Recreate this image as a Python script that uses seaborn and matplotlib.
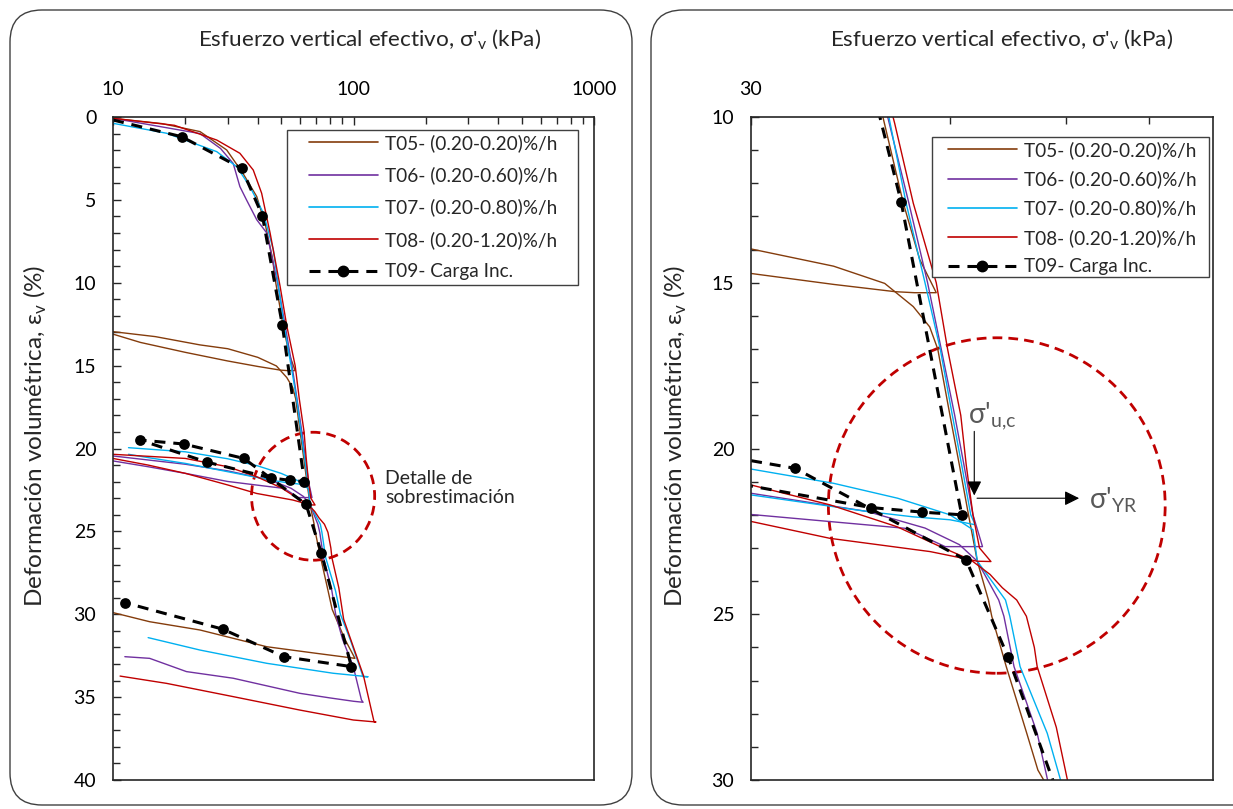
"""
Consolidation curves (strain vs effective vertical stress), full view and detail.
"""

import numpy as np
import pandas as pd
import matplotlib
matplotlib.use('Agg')
import matplotlib.pyplot as plt
import seaborn as sns
from matplotlib.patches import Ellipse, FancyBboxPatch, Rectangle
from matplotlib.lines import Line2D
from matplotlib.ticker import FixedLocator, NullFormatter, LogLocator, FuncFormatter, MultipleLocator

nan = np.nan

# ---- data (stress in kPa, strain in %) ; nan = new branch
t05_stress = [10, 16, 23, 29.7, 34.7, 39.6, 43, 46, 47.5, 51, 54, 57.2, 53, 49.6, 40, 30, 20, 13, 10, nan,
              10, 15, 23, 30, 40, 47.8, 52.8, 55.9, 57.5, 60, 62, 64, 66, 68.6, 69.4, 73, 78.4, 81.5,
              92, 101.4, 70.3, 43.6, 23, 14.2, 10]
t05_strain = [0.08, 0.4, 0.88, 1.99, 3.4, 4.8, 6.5, 8.5, 10, 12.6, 14.3, 15.3, 15.3, 15.27, 15.05, 14.72, 14.2, 13.6, 13.1, nan,
              12.95, 13.25, 13.75, 13.98, 14.5, 15.02, 15.72, 16.33, 17.0, 19.0, 20.5, 22, 23.4, 24.57, 25.06, 26.58, 28.59, 29.7,
              31.5, 32.66, 32.36, 31.96, 30.95, 30.45, 29.9]

t06_stress = [10, 23, 28, 31.6, 33.7, 35.9, 39.6, 43.6, 48.3, 52, 55.5, 58.2, 61, 63, 65, 67.2, 59, 51.5, 30, 20, 14, 10, nan,
              10, 20, 30, 45, 55, 62, 66, 71.1, 72.4, 75, 81.3, 84.3, 90, 99.8, 107.9, 109.6, 100, 80, 59.8, 31.6, 20.2, 14.2, 11.2]
t06_strain = [0.08, 1.0, 1.9, 2.8, 4.2, 5.0, 6.2, 7.0, 10.0, 12.6, 15, 17, 19, 20.5, 22, 22.96, 22.96, 22.41, 21.99, 21.5, 21.1, 20.75, nan,
              20.45, 20.95, 21.35, 21.9, 22.4, 22.9, 23.4, 24.57, 25.06, 26.58, 28.59, 30, 31.5, 33.16, 35.17, 35.31, 35.25, 35.05, 34.77, 33.86, 33.46, 32.66, 32.56]

t07_stress = [10, 16.7, 27, 32.7, 37.1, 42.2, 46.4, 48.5, 51.5, 55, 58, 60.5, 62.5, 64.5, 65.5, 60, 52.7, 45, 30, 20, 14, 11.6, nan,
              11.6, 20, 30, 40, 50, 60, 65, 66, 72.8, 73.9, 76.6, 84.2, 88.2, 97, 104, 109.6, 115, 82.3, 43.6, 23, 14]
t07_strain = [0.38, 0.98, 2.09, 3.0, 4.2, 5.8, 8.0, 10, 12.6, 15, 17, 19, 20.5, 22, 22.3, 22.15, 22.06, 21.9, 21.4, 20.9, 20.55, 20.35, nan,
              19.95, 20.2, 20.62, 21.05, 21.5, 22.0, 22.45, 23.4, 24.57, 25.06, 26.58, 28.59, 30, 31.55, 32.8, 33.77, 33.77, 33.56, 32.96, 32.16, 31.41]

t08_stress = [10, 18, 27, 33.7, 38.3, 41.5, 45, 49.5, 52.8, 57.2, 59.5, 62.3, 63.5, 65, 66.5, 69.2, 66, 56, 39.5, 30, 20, 14, 10, nan,
              10, 20, 30, 39.5, 49.9, 58, 64.5, 69, 72, 75.7, 78.3, 80.5, 81.3, 86.9, 91, 100, 110, 121.7, 124, 99.8, 59.8, 31.6, 16.7, 10.7]
t08_strain = [0.08, 0.5, 1.39, 2.19, 3.2, 4.6, 7.0, 10.2, 12.6, 15.0, 17.0, 19.0, 20.5, 22, 23.0, 23.41, 23.4, 23.11, 22.71, 22.2, 21.5, 21.0, 20.6, nan,
              20.35, 20.6, 21.1, 21.7, 22.36, 22.96, 23.36, 23.8, 24.2, 24.57, 25.06, 26.0, 26.58, 28.41, 30.3, 32.0, 33.7, 36.48, 36.5, 36.38, 35.78, 34.97, 34.17, 33.73]

t09_stress = [10, 19.3, 34.3, 41.8, 50.6, 62.5, 54.5, 45.5, 24.7, 12.95, 19.7, 35, 63.5, 73.5, 98, 51.3, 28.6, 11.2]
t09_strain = [0.18, 1.19, 3.1, 5.95, 12.55, 22.0, 21.92, 21.78, 20.83, 19.49, 19.73, 20.6, 23.37, 26.3, 33.16, 32.56, 30.9, 29.3]

test_names = ['T05- (0.20-0.20)%/h', 'T06- (0.20-0.60)%/h', 'T07- (0.20-0.80)%/h',
              'T08- (0.20-1.20)%/h', 'T09- Carga Inc.']
test_colors = ['#843C0C', '#7030A0', '#00B0F0', '#C00000', 'black']

x_title = "Esfuerzo vertical efectivo, σ'$_\\mathregular{v}$ (kPa)"
y_title = "Deformación volumétrica, ε$_\\mathregular{v}$ (%)"


def to_frame(stress, strain, name):
    s = np.array(stress, dtype=float)
    e = np.array(strain, dtype=float)
    df = pd.DataFrame({'stress': s, 'strain': e, 'seg': np.cumsum(np.isnan(s)), 'test': name})
    return df.dropna()


curves = pd.concat([to_frame(t05_stress, t05_strain, test_names[0]),
                    to_frame(t06_stress, t06_strain, test_names[1]),
                    to_frame(t07_stress, t07_strain, test_names[2]),
                    to_frame(t08_stress, t08_strain, test_names[3])])
t09 = to_frame(t09_stress, t09_strain, test_names[4])
t09_dots = t09.iloc[1:]

sns.set_style('white')
plt.rcParams['font.family'] = ['Lato', 'DejaVu Sans']
plt.rcParams['axes.edgecolor'] = '#262626'

FS_TICK = 14
FS_LEG = 13.7
W, H = 1233, 809
fig = plt.figure(figsize=(W / 100, H / 100), dpi=100)


def px_axes(x0, y0, x1, y1):
    return fig.add_axes([x0 / W, 1 - y1 / H, (x1 - x0) / W, (y1 - y0) / H])


def draw_curves(ax):
    sns.lineplot(data=curves, x='stress', y='strain', hue='test', units='seg',
                 estimator=None, sort=False, palette=dict(zip(test_names[:4], test_colors[:4])),
                 linewidth=1.0, legend=False, ax=ax)
    sns.lineplot(data=t09, x='stress', y='strain', units='seg', estimator=None, sort=False,
                 color='black', linewidth=2.2, linestyle=(0, (3.6, 2.6)), legend=False, ax=ax)
    sns.scatterplot(data=t09_dots, x='stress', y='strain', color='black', s=60,
                    edgecolor='black', linewidth=0, legend=False, ax=ax, zorder=5)
    ax.set_xlabel('')
    ax.set_ylabel('')


def style_axes(ax):
    for sp in ax.spines.values():
        sp.set_visible(True)
        sp.set_linewidth(1.2)
    ax.xaxis.tick_top()
    ax.tick_params(axis='x', which='both', direction='in', top=True, bottom=False,
                   labeltop=True, labelbottom=False, pad=14, labelsize=FS_TICK, colors='#262626')
    ax.tick_params(axis='y', which='both', direction='in', left=True, right=False,
                   pad=12, labelsize=FS_TICK, colors='#262626')
    ax.tick_params(which='major', length=6, width=1)
    ax.tick_params(which='minor', length=5, width=1)
    ax.tick_params(axis='x', labelcolor='black')
    ax.tick_params(axis='y', labelcolor='black')
    ax.yaxis.set_major_locator(MultipleLocator(5))
    ax.yaxis.set_minor_locator(MultipleLocator(1))
    ax.xaxis.set_major_formatter(FuncFormatter(lambda v, p: f'{v:g}'))
    ax.xaxis.set_minor_formatter(NullFormatter())


def add_legend(ax, box, anchor, spacing):
    # frame drawn separately so the padding matches the original
    x0, y0, x1, y1 = box
    ax.add_patch(Rectangle((x0, y0), x1 - x0, y1 - y0, transform=ax.transAxes, fill=True,
                           fc='white', ec='#404040', lw=1.0, zorder=6))
    handles = [Line2D([], [], color=c, lw=1.2) for c in test_colors[:4]]
    handles.append(Line2D([], [], color='black', lw=2.2, ls=(0, (3.6, 2.6)),
                          marker='o', markersize=7.5))
    leg = ax.legend(handles, test_names, loc='upper left', bbox_to_anchor=anchor,
                    borderaxespad=0, borderpad=0, frameon=False,
                    fontsize=FS_LEG, handlelength=3.6, handletextpad=0.42,
                    labelspacing=spacing)
    leg.set_zorder(7)


def frac(ax_px, px, py):
    x0, y0, x1, y1 = ax_px
    return (px - x0) / (x1 - x0), 1 - (py - y0) / (y1 - y0)


# ---- left panel: full curves
left_px = (113, 117, 594, 780)
ax1 = px_axes(*left_px)
ax1.set_xscale('log')
draw_curves(ax1)
ax1.set_xlim(10, 1000)
ax1.set_ylim(40, 0)
style_axes(ax1)
ax1.xaxis.set_major_locator(FixedLocator([10, 100, 1000]))
ax1.xaxis.set_minor_locator(LogLocator(base=10, subs=np.arange(2, 10)))
bl = frac(left_px, 287, 285)
tr = frac(left_px, 578, 130)
add_legend(ax1, (bl[0], bl[1], tr[0], tr[1]), frac(left_px, 309, 134), 0.76)
ax1.add_patch(Ellipse((0.416, 0.428), 0.256, 0.193, transform=ax1.transAxes, fill=False,
                      ec='#C00000', lw=2.0, ls=(0, (3.5, 2.2))))
ax1.text(0.566, 0.441, 'Detalle de\nsobrestimación', transform=ax1.transAxes,
         ha='left', va='center', fontsize=14, linespacing=1.15)

# ---- right panel: detail
right_px = (751, 117, 1213, 780)
ax2 = px_axes(*right_px)
ax2.set_xscale('log')
draw_curves(ax2)
ax2.set_xlim(30, 150)
ax2.set_ylim(30, 10)
style_axes(ax2)
ax2.xaxis.set_major_locator(FixedLocator([30]))
ax2.xaxis.set_minor_locator(FixedLocator([60, 90, 120]))
bl = frac(right_px, 932, 277)
tr = frac(right_px, 1209, 137)
add_legend(ax2, (bl[0], bl[1], tr[0], tr[1]), frac(right_px, 948, 141), 0.6)
ax2.add_patch(Ellipse((0.532, 0.414), 0.729, 0.506, transform=ax2.transAxes, fill=False,
                      ec='#C00000', lw=2.0, ls=(0, (3.5, 2.2))))
ax2.text(64.0, 19.05, "σ'$_\\mathregular{u{,}c}$", fontsize=20, color='#595959',
         ha='left', va='center')
ax2.annotate('', xy=(65.3, 21.5), xytext=(65.3, 19.4),
             arrowprops=dict(arrowstyle='-|>', color='black', lw=0.8, mutation_scale=22))
ax2.annotate('', xy=(95, 21.5), xytext=(65.3, 21.5),
             arrowprops=dict(arrowstyle='-|>', color='black', lw=0.8, mutation_scale=22))
ax2.text(97.5, 21.55, "σ'$_\\mathregular{YR}$", fontsize=20, color='#595959',
         ha='left', va='center')

# ---- axis titles and rounded frames
for cx, ly in [(370, 35), (1002, 675)]:
    fig.text(cx / W, 1 - 40 / H, x_title, ha='center', va='center', fontsize=16.2)
    fig.text(ly / W, 1 - 436 / H, y_title, ha='center', va='center', rotation=90, fontsize=17.5)

for x0, w in [(0.10, 6.22), (6.51, 6.4)]:
    fig.add_artist(FancyBboxPatch((x0, 0.04), w, 7.95, boxstyle='round,pad=0,rounding_size=0.32',
                                  transform=fig.dpi_scale_trans, fill=False, ec='#404040', lw=1.0))

fig.savefig('out.png', dpi=100)
